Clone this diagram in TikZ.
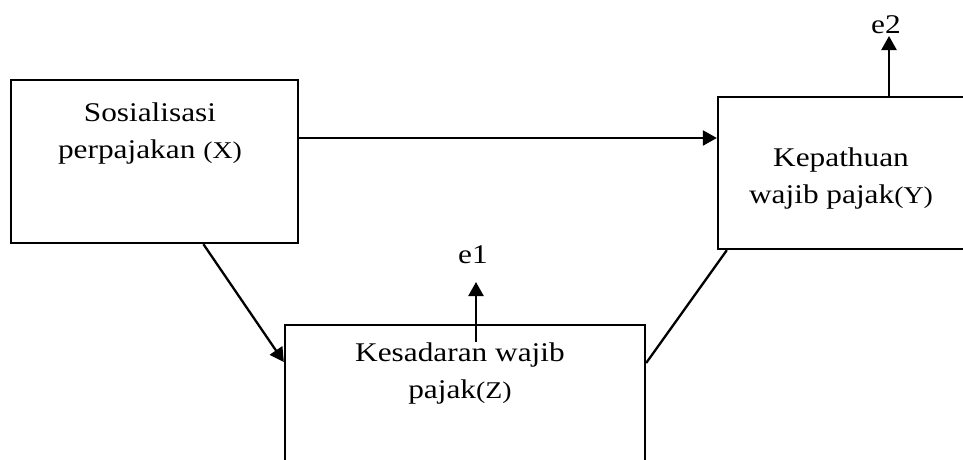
\documentclass[tikz,border=0pt]{standalone}
\usepackage{fontspec}
\setmainfont{Liberation Serif}[FakeStretch=1.16]
\usetikzlibrary{arrows.meta,calc}
\tikzset{
  box/.style={draw, line width=2.3pt, inner sep=0pt},
  lbl/.style={font=\fontsize{27}{36.6}\selectfont, align=center, inner sep=0pt, anchor=base},
  arr/.style={line width=2.3pt, -{Triangle[width=15pt,length=14pt]}},
  link/.style={line width=2.3pt},
}
\newcommand\varname[1]{{\fontsize{24}{36.6}\selectfont #1}}
\begin{document}
\begin{tikzpicture}[x=1pt,y=-1pt]
\useasboundingbox (0,0) rectangle (963,459);
\clip (0,0) rectangle (963,459);

% the three variable boxes
\node[box, minimum width=287pt, minimum height=163pt] (X) at (154.5,161.5) {};
\node[box, minimum width=247pt, minimum height=152pt] (Y) at (841.5,173) {};
\node[box, minimum width=360pt, minimum height=155pt] (Z) at (465,402.5) {};

% box captions (anchored at the baseline of their last line)
\node[lbl] (Xt) at (150,158.3) {Sosialisasi\\perpajakan \varname{(X)}};
\node[lbl] (Yt) at (841,203.3) {Kepathuan\\wajib pajak\varname{(Y)}};
\node[lbl] (Zt) at (460,398.3) {Kesadaran wajib\\pajak\varname{(Z)}};

% error terms
\node[lbl] (e1) at (473,263.3) {e1};
\node[lbl] (e2) at (886,33) {e2};
\coordinate (e1tip) at (476,282);
\coordinate (e2tip) at (889,36);

% paths
\draw[arr] (X.east |- 0,138) -- (Y.west |- 0,138);
\draw[arr] ($(X.south west)!0.669!(X.south east)$) -- (Z.west |- 0,362);
\draw[link] (Z.east |- 0,363) -- ([xshift=10pt]Y.south west);
\draw[arr] ([xshift=11pt,yshift=-18pt]Z.north) -- (e1tip);
\draw[arr] ([xshift=47.5pt]Y.north) -- (e2tip);
\end{tikzpicture}
\end{document}
